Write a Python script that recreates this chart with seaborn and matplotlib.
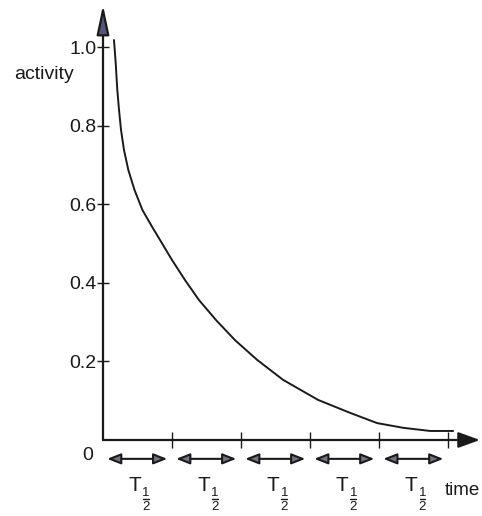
import seaborn as sns
import matplotlib.pyplot as plt

# Data (time in half-lives, activity as fraction)
time_hl = [0.159, 0.184, 0.207, 0.232, 0.261, 0.304, 0.367, 0.457, 0.572,
           0.696, 0.826, 1.000, 1.188, 1.391, 1.638, 1.913, 2.232, 2.609,
           3.116, 3.580, 3.971, 4.348, 4.739, 5.072]
activity = [1.018, 0.959, 0.891, 0.840, 0.789, 0.738, 0.687, 0.636, 0.585,
            0.547, 0.509, 0.458, 0.407, 0.356, 0.305, 0.254, 0.204, 0.153,
            0.102, 0.069, 0.043, 0.031, 0.023, 0.023]
half_life_ticks = [1, 2, 3, 4, 5]
y_ticks = [0.2, 0.4, 0.6, 0.8, 1.0]
y_tick_labels = ['0.2', '0.4', '0.6', '0.8', '1.0']

ink = '#1a1a1a'

sns.set_theme(style='white')
plt.rcParams['font.family'] = ['Liberation Sans', 'DejaVu Sans']

fig = plt.figure(figsize=(4.82, 5.16), dpi=100)
ax = fig.add_axes([0.2137, 0.1473, 0.782, 0.843])

sns.lineplot(x=time_hl, y=activity, ax=ax, color=ink, lw=1.4, sort=False)

ax.set_xlim(0, 5.46)
ax.set_ylim(0, 1.107)
for s in ax.spines.values():
    s.set_visible(False)

# axes with arrow heads
ax.annotate('', xy=(0, 1.107), xytext=(0, 0), annotation_clip=False,
            arrowprops=dict(arrowstyle='-|>,head_length=1.5,head_width=0.32',
                            fc='#55557a', ec=ink, lw=1.6,
                            shrinkA=0, shrinkB=0))
ax.annotate('', xy=(5.46, 0), xytext=(0, 0), annotation_clip=False,
            arrowprops=dict(arrowstyle='-|>,head_length=1.1,head_width=0.4',
                            fc=ink, ec=ink, lw=1.6,
                            shrinkA=0, shrinkB=0))

ax.set_yticks(y_ticks)
ax.set_yticklabels(y_tick_labels)
ax.set_xticks(half_life_ticks)
ax.set_xticklabels([])
ax.tick_params(axis='y', direction='inout', length=9, width=1, color=ink,
               labelsize=14, pad=0, left=True, labelcolor=ink)
ax.tick_params(axis='x', direction='inout', length=12, width=1, color=ink,
               bottom=True)
ax.set_xlabel('')
ax.set_ylabel('')

ax.text(-0.42, 0.93, 'activity', fontsize=14, ha='right', va='center',
        color=ink, clip_on=False)
ax.text(-0.15, -0.04, '0', fontsize=14, ha='right', va='center',
        color=ink, clip_on=False)
ax.text(5.46, -0.128, 'time', fontsize=13.5, ha='right', va='center',
        color=ink, clip_on=False)

# half-life double arrows and T1/2 labels
for k in range(5):
    ax.annotate('', xy=(k + 0.93, -0.048), xytext=(k + 0.06, -0.048),
                annotation_clip=False,
                arrowprops=dict(arrowstyle='<|-|>,head_length=0.68,head_width=0.27',
                                fc='#727284', ec=ink, lw=1.5,
                                shrinkA=0, shrinkB=0))
    ax.text(k + 0.46, -0.117, 'T', fontsize=15, ha='center', va='center',
            color=ink, clip_on=False)
    ax.text(k + 0.625, -0.134, '1', fontsize=9.5, ha='center', va='center',
            color=ink, clip_on=False)
    ax.plot([k + 0.585, k + 0.665], [-0.150, -0.150], color=ink, lw=1,
            clip_on=False)
    ax.text(k + 0.625, -0.170, '2', fontsize=9.5, ha='center', va='center',
            color=ink, clip_on=False)

fig.savefig('out.png', dpi=100, facecolor='white')
